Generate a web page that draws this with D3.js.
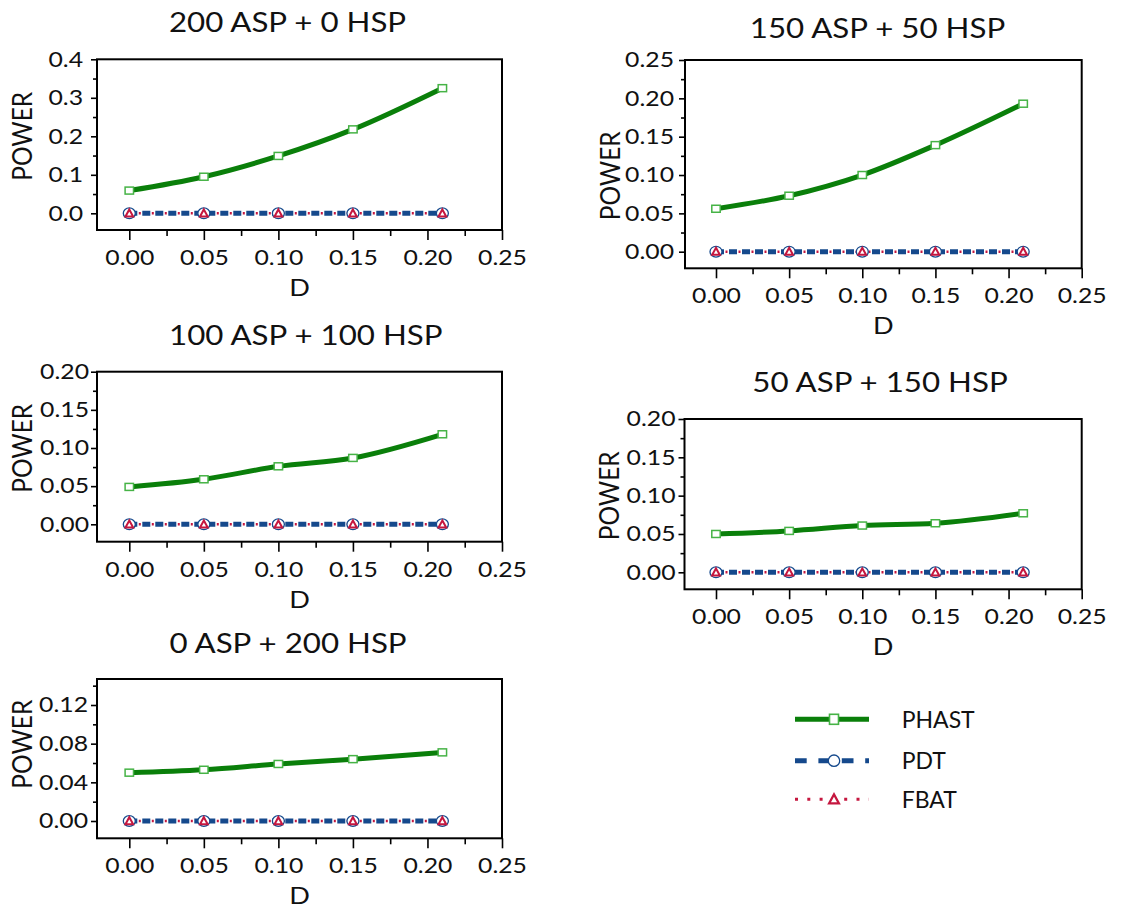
<!DOCTYPE html>
<html>
<head>
<meta charset="utf-8">
<script src="https://cdn.jsdelivr.net/npm/d3@7"></script>
<style>
    body { margin: 0; background: #fff; }
    svg { display: block; font-family: Lato, "Open Sans", sans-serif; }
</style>
</head>
<body>
<div id="chart"></div>
<script>
// D values on the x axis
const dValues = [0, 0.05, 0.10, 0.15, 0.21];
const xMajorTicks = [0, 0.05, 0.10, 0.15, 0.20, 0.25];
const xMinorTicks = [0.025, 0.075, 0.125, 0.175, 0.225];

const panelTitles = ["200 ASP + 0 HSP", "150 ASP + 50 HSP", "100 ASP + 100 HSP", "50 ASP + 150 HSP", "0 ASP + 200 HSP"];

// power of each test
const phast200asp = [0.059, 0.095, 0.149, 0.218, 0.325];
const phast150asp = [0.056, 0.073, 0.100, 0.139, 0.193];
const phast100asp = [0.049, 0.059, 0.076, 0.087, 0.118];
const phast50asp = [0.050, 0.054, 0.061, 0.064, 0.077];
const phast0asp = [0.050, 0.053, 0.059, 0.064, 0.071];
const pdtPower = [0, 0, 0, 0, 0];
const fbatPower = [0, 0, 0, 0, 0];

// y tick labels per panel
const yTicks1 = [0, 0.1, 0.2, 0.3, 0.4];
const yTicks2 = [0, 0.05, 0.10, 0.15, 0.20, 0.25];
const yTicks3 = [0, 0.05, 0.10, 0.15, 0.20];
const yTicks5 = [0, 0.04, 0.08, 0.12];

const legendNames = ["PHAST", "PDT", "FBAT"];

// the picture is a little wider than tall, so text is stretched too
const SX = 1.18;
const colors = {phast: "#0a7f0a", phastMark: "#46b346", pdt: "#15498c", fbat: "#c5173f"};

const panels = [
    {title: panelTitles[0], phast: phast200asp, yTicks: yTicks1, fmt: ".1f", minorStep: 0.05, labelGap: 14,
        left: 97, right: 502, top: 59.3, bottom: 230, x0: 129.3, zeroY: 213.3, refY: 59.3, titleX: 287.5, titleY: 32, powerY: 136.3},
    {title: panelTitles[1], phast: phast150asp, yTicks: yTicks2, fmt: ".2f", minorStep: 0.025, labelGap: 11,
        left: 685, right: 1081.7, top: 60, bottom: 268.3, x0: 716, zeroY: 251.7, refY: 60, titleX: 877.5, titleY: 38, powerY: 175.8},
    {title: panelTitles[2], phast: phast100asp, yTicks: yTicks3, fmt: ".2f", minorStep: 0.025, labelGap: 8,
        left: 97, right: 502, top: 371.7, bottom: 541.7, x0: 129.3, zeroY: 524.3, refY: 371.7, titleX: 305.8, titleY: 345, powerY: 448.3},
    {title: panelTitles[3], phast: phast50asp, yTicks: yTicks3, fmt: ".2f", minorStep: 0.025, labelGap: 9,
        left: 684.5, right: 1081.7, top: 419, bottom: 589.3, x0: 716, zeroY: 572.3, refY: 419, titleX: 880, titleY: 392, powerY: 495.8},
    {title: panelTitles[4], phast: phast0asp, yTicks: yTicks5, fmt: ".2f", minorStep: 0.02, minorMax: 0.14, labelGap: 9,
        left: 97, right: 502, top: 679, bottom: 838.3, x0: 129.3, zeroY: 821, refY: 705, titleX: 288, titleY: 653, powerY: 744.2}
];

const svg = d3.select("#chart").append("svg")
    .attr("width", 1124)
    .attr("height", 909);

function styleAxis(a) {
    a.attr("font-family", null).attr("font-size", 21);
    a.select(".domain").remove();
    a.selectAll("line").attr("stroke", "#000").attr("stroke-width", 1.6);
    a.selectAll("text").attr("fill", "#111");
}

function triangle(cx, cy, h) {
    const w = h * 0.55;
    return `M${cx},${cy - h * 0.55}L${cx + w},${cy + h * 0.45}L${cx - w},${cy + h * 0.45}Z`;
}

function drawPanel(cfg) {
    const yRef = cfg.yTicks[cfg.yTicks.length - 1];
    const x = d3.scaleLinear().domain([0, 0.25]).range([cfg.x0, cfg.right]);
    const y = d3.scaleLinear().domain([0, yRef]).range([cfg.zeroY, cfg.refY]);
    const g = svg.append("g");

    const minorMax = cfg.minorMax !== undefined ? cfg.minorMax : yRef;
    const yMinor = d3.range(0, minorMax + 1e-9, cfg.minorStep).filter(v => !cfg.yTicks.some(t => Math.abs(t - v) < 1e-9));

    g.append("g")
        .attr("transform", `translate(${cfg.left},0)`)
        .call(d3.axisLeft(y).tickValues(yMinor).tickSize(4).tickFormat(""))
        .call(styleAxis);

    g.append("g")
        .attr("transform", `translate(${cfg.left},0)`)
        .call(d3.axisLeft(y).tickValues(cfg.yTicks).tickSize(6).tickFormat(d3.format(cfg.fmt)))
        .call(styleAxis)
        .call(a => a.selectAll("text")
            .attr("x", -cfg.labelGap / SX)
            .attr("transform", `scale(${SX},1)`));

    g.append("g")
        .attr("transform", `translate(0,${cfg.bottom})`)
        .call(d3.axisBottom(x).tickValues(xMinorTicks).tickSize(6).tickFormat(""))
        .call(styleAxis);

    g.append("g")
        .attr("transform", `translate(0,${cfg.bottom})`)
        .call(d3.axisBottom(x).tickValues(xMajorTicks).tickSize(10).tickPadding(10).tickFormat(d3.format(".2f")))
        .call(styleAxis)
        .call(a => a.selectAll("text").attr("transform", `scale(${SX},1)`));

    g.append("rect")
        .attr("x", cfg.left)
        .attr("y", cfg.top)
        .attr("width", cfg.right - cfg.left)
        .attr("height", cfg.bottom - cfg.top)
        .attr("fill", "none")
        .attr("stroke", "#000")
        .attr("stroke-width", 2);

    const flat = d3.line().x((d, i) => x(dValues[i])).y(d => y(d));
    const smooth = d3.line().curve(d3.curveMonotoneX).x((d, i) => x(dValues[i])).y(d => y(d));

    g.append("path")
        .datum(cfg.phast)
        .attr("d", smooth)
        .attr("fill", "none")
        .attr("stroke", colors.phast)
        .attr("stroke-width", 5);

    g.append("path")
        .datum(pdtPower)
        .attr("d", flat)
        .attr("fill", "none")
        .attr("stroke", colors.pdt)
        .attr("stroke-width", 5)
        .attr("stroke-dasharray", "8,5");

    g.append("path")
        .datum(fbatPower)
        .attr("d", flat)
        .attr("fill", "none")
        .attr("stroke", colors.fbat)
        .attr("stroke-width", 2.4)
        .attr("stroke-dasharray", "2,11")
        .attr("stroke-dashoffset", 3.5);

    g.selectAll(".sq")
        .data(cfg.phast)
        .join("rect")
        .attr("x", (d, i) => x(dValues[i]) - 4.2)
        .attr("y", d => y(d) - 3.5)
        .attr("width", 8.4)
        .attr("height", 7)
        .attr("fill", "#fff")
        .attr("stroke", colors.phastMark)
        .attr("stroke-width", 1.5);

    g.selectAll(".circ")
        .data(pdtPower)
        .join("ellipse")
        .attr("cx", (d, i) => x(dValues[i]))
        .attr("cy", d => y(d))
        .attr("rx", 6)
        .attr("ry", 5.4)
        .attr("fill", "#fff")
        .attr("stroke", colors.pdt)
        .attr("stroke-width", 1.3);

    g.selectAll(".tri")
        .data(fbatPower)
        .join("path")
        .attr("d", (d, i) => triangle(x(dValues[i]), y(d), 7))
        .attr("fill", "#fff")
        .attr("stroke", colors.fbat)
        .attr("stroke-width", 2);

    g.append("text")
        .attr("transform", `translate(${cfg.titleX},${cfg.titleY}) scale(${SX},1)`)
        .attr("text-anchor", "middle")
        .attr("font-size", 26.5)
        .attr("fill", "#111")
        .text(cfg.title);

    g.append("text")
        .attr("transform", `translate(${(cfg.left + cfg.right) / 2},${cfg.bottom + 66}) scale(${SX},1)`)
        .attr("text-anchor", "middle")
        .attr("font-size", 23)
        .attr("fill", "#111")
        .text("D");

    g.append("text")
        .attr("transform", `translate(${cfg.left - 75},${cfg.powerY}) rotate(-90) scale(1,1.08)`)
        .attr("text-anchor", "middle")
        .attr("dy", "0.36em")
        .attr("font-size", 24.5)
        .attr("fill", "#111")
        .text("POWER");
}

panels.forEach(drawPanel);

// legend
const legend = svg.append("g");
const legendY = [719.3, 760.7, 799.3];
const lx0 = 795, lx1 = 869, lmid = 834;

legend.append("line")
    .attr("x1", lx0).attr("x2", lx1).attr("y1", legendY[0]).attr("y2", legendY[0])
    .attr("stroke", colors.phast).attr("stroke-width", 5);
legend.append("rect")
    .attr("x", lmid - 4.5).attr("y", legendY[0] - 5).attr("width", 9).attr("height", 10)
    .attr("fill", "#fff").attr("stroke", colors.phastMark).attr("stroke-width", 1.6);

legend.append("line")
    .attr("x1", lx0).attr("x2", lx1).attr("y1", legendY[1]).attr("y2", legendY[1])
    .attr("stroke", colors.pdt).attr("stroke-width", 5).attr("stroke-dasharray", "11.7,11.7");
legend.append("circle")
    .attr("cx", lmid).attr("cy", legendY[1]).attr("r", 5.7)
    .attr("fill", "#fff").attr("stroke", colors.pdt).attr("stroke-width", 1.3);

legend.append("line")
    .attr("x1", lx0).attr("x2", lx1).attr("y1", legendY[2]).attr("y2", legendY[2])
    .attr("stroke", colors.fbat).attr("stroke-width", 3).attr("stroke-dasharray", "3,9.3");
legend.append("path")
    .attr("d", triangle(lmid, legendY[2], 9))
    .attr("fill", "#fff").attr("stroke", colors.fbat).attr("stroke-width", 2.2);

legend.selectAll(".lt")
    .data(legendNames)
    .join("text")
    .attr("x", 901.7)
    .attr("y", (d, i) => legendY[i])
    .attr("dy", "0.36em")
    .attr("font-size", 23)
    .attr("fill", "#111")
    .text(d => d);
</script>
</body>
</html>
